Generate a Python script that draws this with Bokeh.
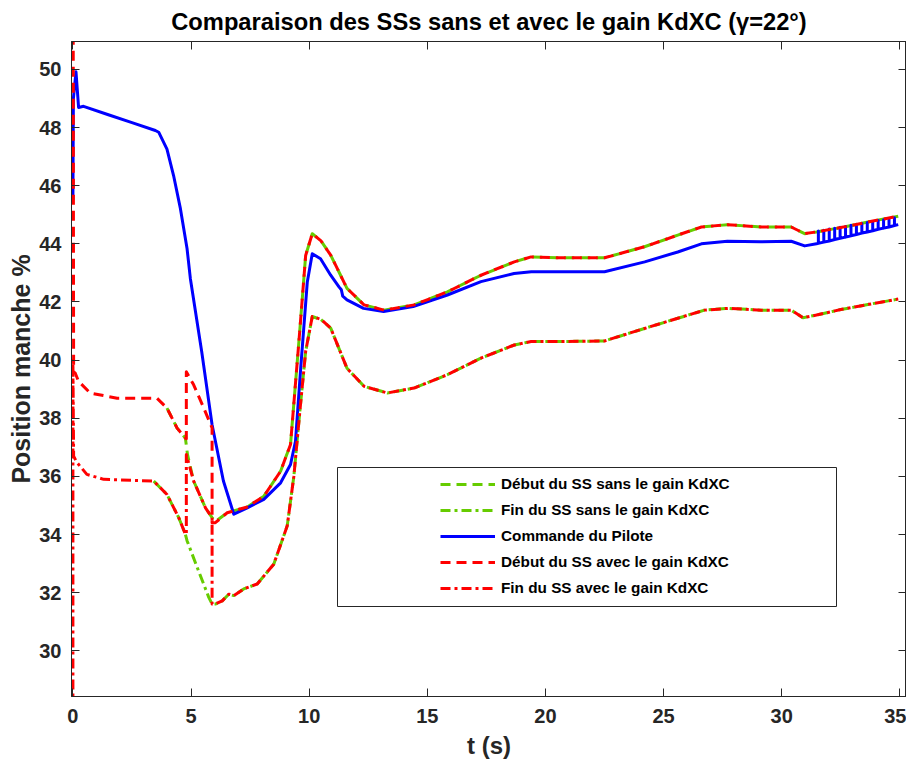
from bokeh.plotting import figure
from bokeh.models import (LinearAxis, FixedTicker, Range1d, Legend, LegendItem,
                          BoxAnnotation, ColumnDataSource)
from bokeh.embed import file_html
from bokeh.resources import INLINE

# ---------------- data ----------------
x_ticks = [0, 5, 10, 15, 20, 25, 30, 35]
y_ticks = [30, 32, 34, 36, 38, 40, 42, 44, 46, 48, 50]

title_text = "Comparaison des SSs sans et avec le gain KdXC (\u03b3=22\u00b0)"
x_label = "t (s)"
y_label = "Position manche %"
labels = ["D\u00e9but du SS sans le gain KdXC",
          "Fin du SS sans le gain KdXC",
          "Commande du Pilote",
          "D\u00e9but du SS avec le gain KdXC",
          "Fin du SS avec le gain KdXC"]

# Commande du Pilote
pilot_t = [0.0, 0.02, 0.13, 0.24, 0.45, 1.5, 2.5, 3.49, 3.63, 3.98, 4.26, 4.55, 4.83,
           4.97, 5.45, 5.89, 6.37, 6.81, 7.38, 8.08, 8.79, 9.21, 9.42, 9.64, 9.92, 10.13,
           10.48, 10.91, 11.26, 11.36, 11.42, 11.6, 12.3, 13.15, 14.4, 15.85, 17.27,
           18.67, 19.4, 20.66, 22.5, 24.2, 25.6, 26.6, 27.7, 29.1, 30.4, 30.97, 31.47]
pilot_y = [45.5, 49.0, 49.92, 48.69, 48.73, 48.44, 48.17, 47.9, 47.84, 47.26, 46.35,
           45.21, 43.84, 42.81, 40.3, 37.78, 35.84, 34.70, 34.92, 35.21, 35.78, 36.41,
           37.21, 39.72, 42.69, 43.66, 43.49, 42.92, 42.52, 42.42, 42.2, 42.07, 41.78,
           41.67, 41.84, 42.24, 42.70, 42.98, 43.04, 43.04, 43.04, 43.38, 43.72, 44.0,
           44.09, 44.07, 44.09, 43.93, 44.0]
# oscillation of the pilot command at the end (spikes)
osc_t = [31.55, 31.78, 32.01, 32.24, 32.47, 32.70, 32.93, 33.16, 33.39, 33.62, 33.85,
         34.08, 34.31, 34.54, 34.77]
osc_lo = [44.02, 44.06, 44.10, 44.15, 44.19, 44.23, 44.28, 44.32, 44.37, 44.41, 44.45,
          44.50, 44.54, 44.58, 44.63]
osc_hi = [44.44, 44.47, 44.51, 44.54, 44.57, 44.60, 44.64, 44.67, 44.70, 44.73, 44.77,
          44.80, 44.83, 44.86, 44.90]
pilot_end_t = [34.93]
pilot_end_y = [44.66]

# common branch of the "Début du SS" curves
upper_t = [6.53, 7.38, 8.08, 8.79, 9.21, 9.6, 9.85, 10.13, 10.5, 10.91, 11.6, 12.32,
           13.17, 14.44, 15.85, 17.27, 18.68, 19.39, 20.66, 22.5, 24.19, 25.6, 26.6,
           27.7, 29.14, 30.4, 30.97, 31.47, 32.5, 33.7, 34.93]
upper_y = [34.75, 34.95, 35.32, 36.18, 37.1, 41.0, 43.6, 44.35, 44.1, 43.61, 42.47, 41.9,
           41.72, 41.9, 42.35, 42.92, 43.38, 43.55, 43.52, 43.52, 43.9, 44.3, 44.58,
           44.66, 44.58, 44.58, 44.35, 44.41, 44.56, 44.76, 44.95]
# common branch of the "Fin du SS" curves
lower_t = [6.32, 6.6, 6.81, 7.23, 7.8, 8.5, 9.07, 9.35, 9.6, 9.85, 10.13, 10.5, 10.91,
           11.6, 12.32, 13.31, 14.44, 15.85, 17.27, 18.68, 19.39, 20.66, 22.5, 24.19,
           25.6, 26.73, 27.72, 29.14, 30.4, 30.9, 31.47, 32.5, 33.7, 34.93]
lower_y = [31.72, 31.95, 31.9, 32.13, 32.3, 32.98, 34.3, 36.0, 38.2, 40.3, 41.5, 41.4,
           41.1, 39.72, 39.1, 38.87, 39.04, 39.5, 40.07, 40.52, 40.64, 40.64, 40.66,
           41.09, 41.44, 41.72, 41.78, 41.72, 41.72, 41.46, 41.55, 41.74, 41.92, 42.1]

# first parts of each curve
deb_sans_t = [3.98, 4.41, 4.76, 4.85, 5.11, 5.61, 5.89, 6.03]
deb_sans_y = [38.35, 37.66, 37.32, 36.75, 35.84, 34.92, 34.58, 34.45]
fin_sans_t = [3.42, 3.98, 4.48, 4.76, 4.83, 5.26, 5.75, 5.89, 6.03]
fin_sans_y = [35.84, 35.38, 34.58, 34.01, 33.79, 32.87, 31.84, 31.61, 31.61]
deb_avec_t = [0.0, 0.03, 0.1, 0.24, 0.73, 1.87, 3.56, 3.98, 4.41, 4.76, 4.8, 4.8, 5.11,
              5.54, 5.89, 5.89, 6.03]
deb_avec_y = [60.0, 39.6, 39.55, 39.27, 38.87, 38.69, 38.69, 38.35, 37.66, 37.32, 37.3,
              39.6, 39.15, 38.35, 37.67, 34.41, 34.41]
fin_avec_t = [0.0, 0.0, 0.03, 0.15, 0.59, 1.3, 3.42, 3.98, 4.48, 4.76, 4.8, 4.8, 5.11,
              5.61, 5.89, 5.89, 6.03]
fin_avec_y = [20.0, 40.0, 36.7, 36.5, 36.07, 35.9, 35.84, 35.38, 34.58, 34.01, 34.0,
              36.75, 35.84, 34.92, 34.58, 31.61, 31.61]

# ---------------- build series ----------------
pt, py = list(pilot_t), list(pilot_y)
for t, lo, hi in zip(osc_t, osc_lo, osc_hi):
    pt += [t, t, t]
    py += [lo, hi, lo]
pt += pilot_end_t
py += pilot_end_y

series = {
    "deb_sans": (deb_sans_t + upper_t, deb_sans_y + upper_y),
    "fin_sans": (fin_sans_t + lower_t, fin_sans_y + lower_y),
    "pilot": (pt, py),
    "deb_avec": (deb_avec_t + upper_t, deb_avec_y + upper_y),
    "fin_avec": (fin_avec_t + lower_t, fin_avec_y + lower_y),
}

GREEN = "#66cc00"
RED = "#ff0000"
BLUE = "#0000ff"
AX = "#262626"
FONT = "Liberation Sans"

styles = {
    "deb_sans": dict(color=GREEN, dash="10 6"),
    "fin_sans": dict(color=GREEN, dash="10 4 3 4"),
    "pilot": dict(color=BLUE, dash="solid"),
    "deb_avec": dict(color=RED, dash="10 6"),
    "fin_avec": dict(color=RED, dash="10 4 3 4"),
}

p = figure(width=906, height=763, x_range=Range1d(-0.06, 35.28), y_range=Range1d(28.43, 50.96),
           output_backend="svg", toolbar_location=None,
           min_border_left=71, min_border_right=0, min_border_top=38, min_border_bottom=67,
           title=title_text)
p.title.text_font = FONT
p.title.text_font_style = "bold"
p.title.text_font_size = "23.7px"
p.title.text_color = "#000000"
p.title.align = "center"
p.title.standoff = 13

p.xgrid.visible = False
p.ygrid.visible = False
p.outline_line_color = AX
p.outline_line_alpha = 1
p.outline_line_width = 1
p.background_fill_color = "white"
p.border_fill_color = "white"

for ax, ticks in ((p.xaxis[0], x_ticks), (p.yaxis[0], y_ticks)):
    ax.ticker = FixedTicker(ticks=ticks)
    ax.axis_line_color = AX
    ax.major_tick_line_color = AX
    ax.major_tick_in = 8
    ax.major_tick_out = 0
    ax.minor_tick_line_color = None
    ax.major_label_text_font = FONT
    ax.major_label_text_font_style = "bold"
    ax.major_label_text_font_size = "20px"
    ax.major_label_text_color = AX
    ax.axis_label_text_font = FONT
    ax.axis_label_text_font_style = "bold"
    ax.axis_label_text_font_size = "24px"
    ax.axis_label_text_color = AX

p.yaxis[0].axis_label_text_font_size = "25px"
p.xaxis[0].axis_label = x_label
p.yaxis[0].axis_label = y_label
p.xaxis[0].major_label_standoff = 12
p.yaxis[0].major_label_standoff = 10
p.xaxis[0].axis_label_standoff = 6
p.yaxis[0].axis_label_standoff = 1

# box axes (top / right) with inward ticks, no labels
top_ax = LinearAxis(ticker=FixedTicker(ticks=x_ticks),
                    major_label_overrides={t: "" for t in x_ticks})
right_ax = LinearAxis(ticker=FixedTicker(ticks=y_ticks),
                      major_label_overrides={t: "" for t in y_ticks})
for ax in (top_ax, right_ax):
    ax.axis_line_color = AX
    ax.major_tick_line_color = AX
    ax.major_tick_in = 8
    ax.major_tick_out = 0
    ax.minor_tick_line_color = None
    ax.major_label_standoff = 0
    ax.major_label_text_font_size = "1px"
p.add_layout(top_ax, "above")
p.add_layout(right_ax, "right")

renderers = {}
for key in ["deb_sans", "fin_sans", "pilot", "deb_avec", "fin_avec"]:
    xs, ys = series[key]
    src = ColumnDataSource(dict(x=xs, y=ys))
    st = styles[key]
    renderers[key] = p.line("x", "y", source=src, line_color=st["color"], line_width=3,
                            line_dash=st["dash"], line_join="round")

# legend frame (screen units relative to the plot frame)
box = BoxAnnotation(left=266, right=765, bottom=90, top=229,
                    left_units="screen", right_units="screen",
                    bottom_units="screen", top_units="screen",
                    fill_color="white", fill_alpha=1.0,
                    line_color=AX, line_width=1, line_alpha=1.0)
p.add_layout(box)

legend = Legend(items=[LegendItem(label=lab, renderers=[renderers[k]]) for lab, k in
                       zip(labels, ["deb_sans", "fin_sans", "pilot", "deb_avec", "fin_avec"])],
                location=(369, 98), padding=0, margin=0, spacing=6,
                glyph_width=55, glyph_height=20, label_height=20, label_standoff=6,
                label_text_font=FONT, label_text_font_style="bold",
                label_text_font_size="15.3px", label_text_color="#000000",
                border_line_alpha=0, background_fill_alpha=0)
p.add_layout(legend, "center")

open("out.html", "w").write(file_html(p, INLINE))
